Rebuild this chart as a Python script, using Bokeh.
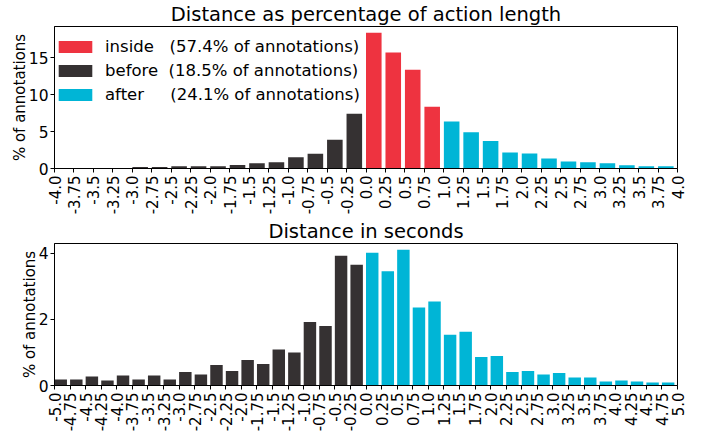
import math
from bokeh.plotting import figure
from bokeh.layouts import column
from bokeh.models import FixedTicker, Legend, LegendItem
from bokeh.embed import file_html
from bokeh.resources import INLINE

FONT = "DejaVu Sans"

# ---------------- data ----------------
# top chart: distance as percentage of action length (bins of 0.25)
top_tick_labels = ["-4.0", "-3.75", "-3.5", "-3.25", "-3.0", "-2.75", "-2.5", "-2.25",
                   "-2.0", "-1.75", "-1.5", "-1.25", "-1.0", "-0.75", "-0.5", "-0.25",
                   "0.0", "0.25", "0.5", "0.75", "1.0", "1.25", "1.5", "1.75",
                   "2.0", "2.25", "2.5", "2.75", "3.0", "3.25", "3.5", "3.75", "4.0"]
top_before = [0.02, 0.02, 0.02, 0.03, 0.2, 0.2, 0.3, 0.3,
              0.3, 0.48, 0.7, 0.83, 1.53, 2.0, 3.9, 7.4]
top_inside = [18.35, 15.7, 13.35, 8.35]
top_after = [6.36, 4.91, 3.73, 2.15, 2.02, 1.36, 0.96, 0.83,
             0.7, 0.44, 0.3, 0.3]
top_yticks = [0, 5, 10, 15]

legend_names = ["inside", "before", "after"]
legend_shares = ["57.4", "18.5", "24.1"]
legend_pad = [3, 2, 5]

# bottom chart: distance in seconds (bins of 0.25)
bot_tick_labels = ["-5.0", "-4.75", "-4.5", "-4.25", "-4.0", "-3.75", "-3.5", "-3.25",
                   "-3.0", "-2.75", "-2.5", "-2.25", "-2.0", "-1.75", "-1.5", "-1.25",
                   "-1.0", "-0.75", "-0.5", "-0.25", "0.0", "0.25", "0.5", "0.75",
                   "1.0", "1.25", "1.5", "1.75", "2.0", "2.25", "2.5", "2.75",
                   "3.0", "3.25", "3.5", "3.75", "4.0", "4.25", "4.5", "4.75", "5.0"]
bot_before = [0.18, 0.18, 0.27, 0.15, 0.30, 0.18, 0.30, 0.18, 0.41, 0.33,
              0.62, 0.44, 0.77, 0.65, 1.09, 1.00, 1.92, 1.80, 3.93, 3.66]
bot_after = [4.02, 3.46, 4.11, 2.36, 2.54, 1.54, 1.63, 0.86, 0.89, 0.41,
             0.44, 0.33, 0.38, 0.24, 0.24, 0.12, 0.15, 0.12, 0.09, 0.09]
bot_yticks = [0, 2, 4]

RED = "#EE3340"
DARK = "#353132"
CYAN = "#00B5D6"

BIN = 0.25
BAR_W = BIN * 0.8
FRAME_H = 142


def centers(lefts):
    return [l + BAR_W / 2 for l in lefts]


def make_fig(title, tick_labels, yticks, ymax):
    pos = [float(t) for t in tick_labels]
    p = figure(frame_width=623, frame_height=FRAME_H,
               x_range=(pos[0], pos[-1]), y_range=(0, ymax),
               output_backend="svg", toolbar_location=None,
               min_border=0, min_border_right=22)
    p.margin = (0, 0, 0, 7)
    p.title.text = title
    p.title.text_font = FONT
    p.title.text_font_size = "19.5px"
    p.title.text_font_style = "normal"
    p.title.align = "center"
    p.title.standoff = 1
    p.title.text_color = "black"
    p.grid.visible = False
    p.outline_line_color = "black"
    p.outline_line_width = 1
    p.background_fill_color = "white"

    p.xaxis.ticker = FixedTicker(ticks=pos)
    p.xaxis.major_label_overrides = {v: t for v, t in zip(pos, tick_labels)}
    p.xaxis.major_label_orientation = math.pi / 2
    p.xaxis.major_label_text_font = FONT
    p.xaxis.major_label_text_font_size = "15px"
    p.xaxis.major_label_text_color = "black"
    p.xaxis.major_label_standoff = 3

    p.yaxis.ticker = FixedTicker(ticks=yticks)
    p.yaxis.major_label_text_font = FONT
    p.yaxis.major_label_text_font_size = "15.5px"
    p.yaxis.major_label_text_color = "black"
    p.yaxis.major_label_standoff = 2
    p.yaxis.axis_label = "% of annotations"
    p.yaxis.axis_label_text_font = FONT
    p.yaxis.axis_label_text_font_size = "15px"
    p.yaxis.axis_label_text_font_style = "normal"
    p.yaxis.axis_label_text_color = "black"
    p.yaxis.axis_label_standoff = -3

    for ax in (p.xaxis, p.yaxis):
        ax.axis_line_color = "black"
        ax.axis_line_width = 1
        ax.major_tick_line_color = "black"
        ax.major_tick_out = 4
        ax.major_tick_in = 0
        ax.minor_tick_line_color = None
    return p, pos


# ---------------- top chart ----------------
p1, pos1 = make_fig("Distance as percentage of action length", top_tick_labels, top_yticks, 19.2)
lefts1 = pos1[:-1]
nb, ni = len(top_before), len(top_inside)
r_in = p1.vbar(x=centers(lefts1[nb:nb + ni]), top=top_inside, width=BAR_W, bottom=0,
               fill_color=RED, line_color=None)
r_be = p1.vbar(x=centers(lefts1[:nb]), top=top_before, width=BAR_W, bottom=0,
               fill_color=DARK, line_color=None)
r_af = p1.vbar(x=centers(lefts1[nb + ni:]), top=top_after, width=BAR_W, bottom=0,
               fill_color=CYAN, line_color=None)

labels = [f"{n}{chr(160) * k}({s}% of annotations)"
          for n, s, k in zip(legend_names, legend_shares, legend_pad)]
LEG_ROW = 24
LEG_PAD = 2
legend = Legend(items=[LegendItem(label=labels[0], renderers=[r_in]),
                       LegendItem(label=labels[1], renderers=[r_be]),
                       LegendItem(label=labels[2], renderers=[r_af])],
                location=(0, FRAME_H - 4 - 3 * LEG_ROW - 2 * LEG_PAD))
legend.margin = 0
legend.padding = LEG_PAD
legend.spacing = 0
legend.label_height = LEG_ROW
legend.glyph_height = 15
legend.glyph_width = 42
legend.label_standoff = 9
legend.label_text_font = FONT
legend.label_text_font_size = "16.5px"
legend.label_text_color = "black"
legend.border_line_color = None
legend.background_fill_alpha = 0
p1.add_layout(legend)

# ---------------- bottom chart ----------------
p2, pos2 = make_fig("Distance in seconds", bot_tick_labels, bot_yticks, 4.3)
lefts2 = pos2[:-1]
nb2 = len(bot_before)
p2.vbar(x=centers(lefts2[:nb2]), top=bot_before, width=BAR_W, bottom=0,
        fill_color=DARK, line_color=None)
p2.vbar(x=centers(lefts2[nb2:]), top=bot_after, width=BAR_W, bottom=0,
        fill_color=CYAN, line_color=None)

layout = column(p1, p2, spacing=0)
open("out.html", "w").write(file_html(layout, INLINE))
